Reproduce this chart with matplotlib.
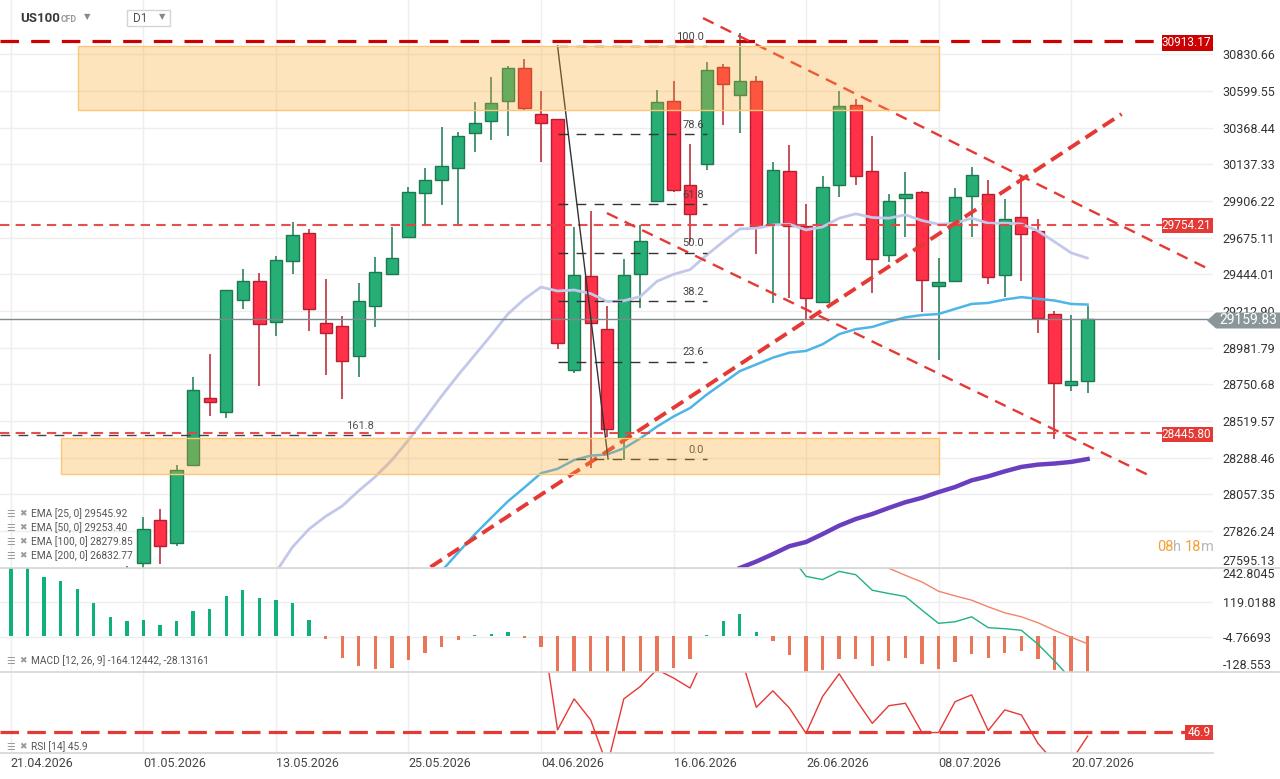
import matplotlib
matplotlib.use("Agg")
import matplotlib.pyplot as plt
from matplotlib.patches import Rectangle, Polygon
from matplotlib.lines import Line2D

plt.rcParams["font.family"] = ["Roboto", "DejaVu Sans"]

W, H = 1280, 779

# ---------------- data ----------------
DATE_TICKS = [0, 8, 16, 24, 32, 40, 48, 56, 64]
DATE_LABELS = ["21.04.2026", "01.05.2026", "13.05.2026", "25.05.2026", "04.06.2026",
               "16.06.2026", "26.06.2026", "08.07.2026", "20.07.2026"]

# candles, index 7 .. 65
candle_idx = list(range(7, 66))
opens = [27480, 27626.6, 27893.5, 27751.5, 28245.0, 28662.5, 28573.5, 29285.3, 29399.7, 29141.3,
         29531.0, 29702.7, 29135.0, 29115.8, 28927.2, 29247.2, 29444.2, 29677.2, 29954.8, 30041.6,
         30111.5, 30331.9, 30408.1, 30539.5, 30742.8, 30452.6, 30420.8, 28838.3, 29431.5, 29096.8,
         28414.7, 29444.2, 29904.0, 30539.5, 30009.9, 30137.0, 30749.2, 30571.2, 30660.2, 29764.0,
         30092.5, 29749.3, 29272.6, 30005.6, 30512.0, 30092.5, 29562.9, 29923.0, 29961.0, 29368.0,
         29404.0, 29935.7, 29948.4, 29437.9, 29802.3, 29715.4, 29192.1, 28745.0, 28774.7]
highs = [27608, 27916.7, 27965.5, 28240.9, 28795.9, 28940.0, 29342.5, 29476.0, 29452.7, 29556.5,
         29776.8, 29728.0, 29412.4, 29179.4, 29387.0, 29554.3, 29745.0, 29995.0, 30113.7, 30370.0,
         30342.5, 30531.0, 30687.8, 30757.7, 30800.0, 30598.8, 30420.8, 29742.9, 29840.4, 29245.0,
         29539.6, 29755.6, 30603.0, 30662.3, 30264.0, 30781.0, 30768.3, 30965.0, 30692.0, 30151.8,
         30257.7, 29887.0, 30062.8, 30598.8, 30548.0, 30314.9, 29950.5, 30088.0, 29967.5, 29550.0,
         29988.7, 30122.0, 30037.4, 29918.8, 30056.4, 29791.6, 29213.3, 29187.9, 29247.0]
lows = [27420, 27560.0, 27616.0, 27732.5, 28245.0, 28552.3, 28539.7, 29226.0, 28743.0, 29056.5,
        29448.5, 29088.4, 28810.8, 28660.3, 28798.0, 29113.7, 29437.9, 29753.5, 29753.5, 29882.7,
        29762.0, 30217.5, 30291.6, 30317.0, 30482.3, 30153.9, 28976.0, 28823.5, 28226.0, 28420.0,
        28272.7, 29232.3, 29904.0, 29961.0, 29650.0, 30098.9, 30387.0, 30336.0, 29573.0, 29266.0,
        29296.0, 29156.0, 29272.6, 29933.6, 30009.9, 29327.7, 29522.6, 29679.4, 29209.0, 28906.0,
        29397.6, 29679.4, 29383.0, 29300.0, 29399.7, 29073.4, 28406.0, 28711.0, 28696.0]
closes = [27540, 27836.2, 27734.6, 28209.0, 28713.3, 28637.0, 29342.5, 29399.7, 29128.6, 29537.4,
          29690.0, 29223.9, 29071.3, 28895.5, 29279.0, 29459.0, 29550.0, 29961.0, 30041.6, 30124.2,
          30312.8, 30395.4, 30522.5, 30742.8, 30490.7, 30395.4, 29014.1, 29437.9, 29135.0, 28467.6,
          29437.9, 29651.8, 30528.9, 29978.0, 29821.3, 30730.0, 30641.0, 30660.2, 29745.0, 30098.8,
          29751.4, 29296.0, 29992.9, 30503.5, 30060.7, 29543.8, 29903.9, 29948.4, 29410.3, 29393.4,
          29929.4, 30067.0, 29425.1, 29795.9, 29700.6, 29166.9, 28762.0, 28774.7, 29159.83]

ema25_idx = list(range(16, 66))
ema25 = [27568, 27725.5, 27838.8, 27918.9, 27983.8, 28080.2, 28168.4, 28273.7, 28399.7, 28536.5,
         28677.0, 28809.4, 28935.4, 29061.5, 29193.8, 29288.4, 29364.0, 29338.9, 29345.2, 29322.7,
         29272.7, 29277.6, 29304.2, 29400.0, 29444.1, 29473.7, 29565.1, 29649.6, 29730.3, 29734.7,
         29755.5, 29759.9, 29724.0, 29742.9, 29797.7, 29825.4, 29802.1, 29797.7, 29819.2, 29783.2,
         29759.9, 29766.2, 29797.7, 29766.2, 29766.2, 29761.8, 29717.7, 29649.6, 29579.7, 29545.92]
ema50_idx = list(range(26, 66))
ema50 = [27574, 27690.8, 27805.3, 27910.1, 28013.0, 28100.5, 28190.4, 28218.2, 28273.7, 28301.4,
         28309.0, 28347.4, 28410.4, 28484.2, 28547.8, 28601.4, 28685.8, 28759.6, 28833.9, 28876.1,
         28919.0, 28950.5, 28961.2, 29003.4, 29067.0, 29098.6, 29112.5, 29145.3, 29173.0, 29187.5,
         29193.9, 29226.0, 29257.5, 29263.8, 29285.2, 29300.4, 29289.7, 29279.0, 29257.5, 29253.40]
ema100_idx = list(range(44, 66))
ema100 = [27593, 27634, 27681, 27731, 27757, 27807, 27860, 27902, 27933.5, 27972,
          28007.8, 28035.6, 28071.5, 28103.6, 28145.8, 28171, 28202.5, 28230.3, 28244.8, 28251.7,
          28261.8, 28279.85]

PRICE_TICKS = [27595.13, 27826.24, 28057.35, 28288.46, 28519.57, 28750.68, 28981.79,
               29212.90, 29444.01, 29675.11, 29906.22, 30137.33, 30368.44, 30599.55, 30830.66]
LEVELS = [30913.17, 29754.21, 28445.80]
LAST_PRICE = 29159.83

ZONE_TOP = (4.05, 56.0, 30477.7, 30883.0)
ZONE_BOTTOM = (3.0, 56.0, 28183.6, 28412.4)

FIB_HIGH, FIB_LOW = 30883.0, 28280.0
FIB_X = (33.0, 42.0)
FIB_RATIOS = [100.0, 78.6, 61.8, 50.0, 38.2, 23.6, 0.0]
EXT_LEVEL = 28429.4

# trend lines (index, price)
TREND_UP = [(25.33, 27599.0), (67.05, 30454.0)]
TREND_DOWN_HI = [(41.78, 31059.0), (72.45, 29470.0)]
TREND_DOWN_LO = [(35.98, 29830.0), (68.65, 28180.0)]

macd_hist = [260, 255, 209.6, 194.4, 166.1, 116.6, 67.0, 52.9, 56.4, 38.7,
             52.9, 88.3, 95.3, 141.3, 162.5, 134.2, 127.2, 116.6, 56.4, -10.8,
             -78.0, -106.0, -117.0, -113.0, -85.0, -60.0, -39.0, -14.0, 2.0, 7.0,
             14.0, -6.0, -39.0, -150.0, -160.0, -165.0, -160.0, -150.0, -140.0, -140.0,
             -115.8, -80.5, 3.4, 52.9, 78.7, 14.0, -16.8, -66.3, -140.0, -122.9,
             -84.0, -80.5, -108.8, -91.1, -77.0, -101.7, -119.4, -94.6, -62.8, -77.0,
             -59.2, -52.2, -80.5, -123.0, -140.0, -136.0]
macd_idx = list(range(47, 66))
macd_line = [290, 212, 200.4, 229.7, 218, 162.5, 150.9, 140.2, 91.8, 44.7,
             50.4, 68, 29.2, 25.6, 20, -29.5, -88.6, -153.7, -164.12]
signal_idx = list(range(52, 66))
signal_line = [265, 241, 215.6, 191.9, 159, 142.4, 127.2, 103.5, 82.2, 68,
               46.9, 20, -4.77, -28.13]
MACD_TICKS = [-128.553, -4.76693, 119.0188, 242.8045]

rsi_idx = list(range(32, 66))
rsi = [75, 47.45, 55.2, 49.95, 38.5, 55.2, 58.3, 62.5, 60.4, 57.9,
       67, 68, 66.5, 53.1, 57.2, 52.9, 46.6, 55.8, 61.45, 55.1,
       49.1, 53.5, 54.1, 46.8, 46.8, 54.5, 56.2, 47.3, 52.45, 51.2,
       44.1, 39.4, 39.6, 45.9]
RSI_LEVEL = 46.9

# ---------------- style ----------------
GREEN, GREEN_E = "#27ae76", "#1a7a4f"
RED, RED_E = "#ff3047", "#b51f2e"
GRID = "#eeeeee"
XLIM = (-0.66, 72.57)
RIGHT = 1213


def fx(x):
    return x / W


def fy(y):
    return 1 - y / H


fig = plt.figure(figsize=(W / 100, H / 100), dpi=100)
fig.patch.set_facecolor("white")

ax = fig.add_axes([0, fy(567.7), fx(RIGHT), 567.7 / H])
ax_m = fig.add_axes([0, fy(672), fx(RIGHT), (672 - 567.7) / H])
ax_r = fig.add_axes([0, fy(753), fx(RIGHT), (753 - 672) / H])

for a in (ax, ax_m, ax_r):
    a.set_xlim(*XLIM)
    a.set_facecolor("none")
    for s in a.spines.values():
        s.set_visible(False)
    a.set_xticks(DATE_TICKS)
    a.grid(True, color=GRID, lw=1, zorder=0)
    a.set_axisbelow(True)
    a.tick_params(length=0)
    a.yaxis.tick_right()

ax.set_xticklabels([])
ax_m.set_xticklabels([])

# ---- price panel ----
ax.set_ylim(27595.13, 31173.0)
ax.set_yticks(PRICE_TICKS)
ax.set_yticklabels([f"{t:.2f}" for t in PRICE_TICKS])
ax.tick_params(axis="y", pad=7, labelsize=9, labelcolor="#333333")
ax.get_yticklabels()[0].set_va("bottom")

for i, o, h, l, c in zip(candle_idx, opens, highs, lows, closes):
    up = c >= o
    fc, ec = (GREEN, GREEN_E) if up else (RED, RED_E)
    ax.vlines(i, l, h, color=ec, lw=1.1, zorder=3)
    ax.add_patch(Rectangle((i - 0.37, min(o, c)), 0.74, max(abs(c - o), 10),
                           facecolor=fc, edgecolor=ec, lw=1, zorder=4))

ax.plot(ema25_idx, ema25, color="#c3c8ea", lw=2, zorder=5, solid_capstyle="round")
ax.plot(ema50_idx, ema50, color="#4db5e8", lw=1.8, zorder=5)
ax.plot(ema100_idx, ema100, color="#6a3fbf", lw=3.2, zorder=5)

# horizontal levels
ax.axhline(LEVELS[0], color="#cc0000", lw=2.3, ls=(0, (5.8, 3.8)), zorder=6)
for lv in LEVELS[1:]:
    ax.axhline(lv, color="#e84343", lw=1.5, ls=(0, (4.5, 3)), zorder=6, alpha=0.95)
ax.axhline(LAST_PRICE, color="#7f8a8f", lw=1, zorder=6)

# trend lines
(x0, y0), (x1, y1) = TREND_UP
ax.plot([x0, x1], [y0, y1], color="#e53935", lw=2.8, ls=(0, (3.5, 1.8)), zorder=6)
for seg in (TREND_DOWN_HI, TREND_DOWN_LO):
    (x0, y0), (x1, y1) = seg
    ax.plot([x0, x1], [y0, y1], color="#e53935", lw=1.7, ls=(0, (5, 3.3)), zorder=6)

# fibonacci
ax.plot([FIB_X[0], FIB_X[0] + 3.05], [FIB_HIGH, FIB_LOW], color="#333333", lw=1, zorder=7)
for r in FIB_RATIOS:
    lvl = FIB_LOW + (FIB_HIGH - FIB_LOW) * r / 100.0
    ax.plot(FIB_X, [lvl, lvl], color="#333333", lw=1, ls=(0, (7, 6)), zorder=7)
    ax.annotate(f"{r:.1f}", (FIB_X[1], lvl), xytext=(-2, 3), textcoords="offset points",
                ha="right", va="bottom", fontsize=8, color="#444444", zorder=8)
ax.plot([XLIM[0], 21.98], [EXT_LEVEL, EXT_LEVEL], color="#444444", lw=1, ls=(0, (7, 6)), zorder=7)
ax.annotate("161.8", (21.9, EXT_LEVEL), xytext=(0, 3), textcoords="offset points",
            ha="right", va="bottom", fontsize=8, color="#555555", zorder=8)

# supply / demand zones on top
for x0, x1, y0, y1 in (ZONE_TOP, ZONE_BOTTOM):
    ax.add_patch(Rectangle((x0, y0), x1 - x0, y1 - y0, facecolor="#fca82b",
                           alpha=0.31, edgecolor="none", zorder=10))
    ax.add_patch(Rectangle((x0, y0), x1 - x0, y1 - y0, facecolor="none",
                           edgecolor="#fcc677", lw=1, zorder=10))

# ---- MACD panel ----
ax_m.set_ylim(MACD_TICKS[0], MACD_TICKS[-1])
ax_m.set_yticks(MACD_TICKS)
ax_m.set_yticklabels(["-128.553", "-4.76693", "119.0188", "242.8045"])
ax_m.tick_params(axis="y", pad=7, labelsize=9, labelcolor="#333333")
ax_m.get_yticklabels()[0].set_va("bottom")
ax_m.get_yticklabels()[-1].set_va("top")
hist_colors = ["#10b07a" if v >= 0 else "#ea7659" for v in macd_hist]
ax_m.bar(range(len(macd_hist)), macd_hist, width=0.2, color=hist_colors, zorder=3)
ax_m.plot(macd_idx, macd_line, color="#1fb37e", lw=1, zorder=4)
ax_m.plot(signal_idx, signal_line, color="#f3846b", lw=1, zorder=4)

# ---- RSI panel ----
ax_r.set_ylim(41.7, 61.9)
ax_r.set_yticks([])
ax_r.plot(rsi_idx, rsi, color="#e53935", lw=1, zorder=4)
ax_r.axhline(RSI_LEVEL, color="#e53935", lw=2.3, ls=(0, (5.8, 2.6)), zorder=5)
ax_r.set_xticklabels(DATE_LABELS, fontsize=9, color="#444444", ha="left")
ax_r.tick_params(axis="x", pad=3)

# ---- panel dividers ----
for yy, x_end in ((567.7, W), (672, W), (753, RIGHT)):
    fig.add_artist(Line2D([0, fx(x_end)], [fy(yy), fy(yy)], color="#d6d6d6", lw=1.2,
                          transform=fig.transFigure))

# ---- right-side price tags ----
def tag(y, text, color, x0=1162, x1=RIGHT, h=15):
    fig.add_artist(Rectangle((fx(x0), fy(y + h / 2)), fx(x1 - x0), h / H,
                             facecolor=color, edgecolor="none", transform=fig.transFigure, zorder=20))
    fig.text(fx(x1 - 2), fy(y), text, color="white", fontsize=8.5, ha="right", va="center", zorder=21)


tag(43, "30913.17", "#cc0000")
tag(225.5, "29754.21", "#e53935")
tag(434, "28445.80", "#e53935")
tag(732.5, "46.9", "#e53935", x0=1185)

pts = [(1207, 320.5), (1216, 312.5), (1280, 312.5), (1280, 328.5), (1216, 328.5)]
fig.add_artist(Polygon([(fx(a), fy(b)) for a, b in pts], closed=True, facecolor="#8b969b",
                       edgecolor="none", transform=fig.transFigure, zorder=20))
fig.text(fx(1219), fy(320.5), f"{LAST_PRICE:.2f}", color="white", fontsize=10,
         ha="left", va="center", zorder=21)

# ---- header ----
fig.text(fx(20), fy(18), "US100", fontsize=9.5, fontweight="bold", color="#3a3a3a", va="center")
fig.text(fx(61), fy(19), "CFD", fontsize=6.3, fontweight="bold", color="#999999", va="center")
fig.text(fx(84), fy(17), "▼", fontsize=6, color="#888888", va="center")
fig.add_artist(Rectangle((fx(127), fy(26)), fx(43), 16 / H, facecolor="white",
                         edgecolor="#d5d5d5", lw=1, transform=fig.transFigure))
fig.text(fx(133), fy(18), "D1", fontsize=8.5, color="#555555", va="center")
fig.text(fx(159), fy(17), "▼", fontsize=6, color="#888888", va="center")

# ---- legends ----
legend_rows = [(514, "EMA [25, 0] 29545.92"), (528, "EMA [50, 0] 29253.40"),
               (542, "EMA [100, 0] 28279.85"), (556, "EMA [200, 0] 26832.77"),
               (661, "MACD [12, 26, 9] -164.12442, -28.13161"), (747, "RSI [14] 45.9")]
for yy, txt in legend_rows:
    fig.text(fx(6), fy(yy), "☰", fontsize=7, color="#9a9a9a", va="center")
    fig.text(fx(19), fy(yy), "✖", fontsize=6.5, color="#9a9a9a", va="center")
    fig.text(fx(31), fy(yy), txt, fontsize=7.3, color="#555555", va="center")

# ---- countdown ----
fig.text(fx(1157), fy(547), "08", fontsize=10.5, color="#f5a030", va="center")
fig.text(fx(1172.5), fy(547), "h", fontsize=10.5, color="#b8b8b8", va="center")
fig.text(fx(1185), fy(547), "18", fontsize=10.5, color="#f5a030", va="center")
fig.text(fx(1200.5), fy(547), "m", fontsize=10.5, color="#b8b8b8", va="center")

fig.savefig("out.png", dpi=100)
